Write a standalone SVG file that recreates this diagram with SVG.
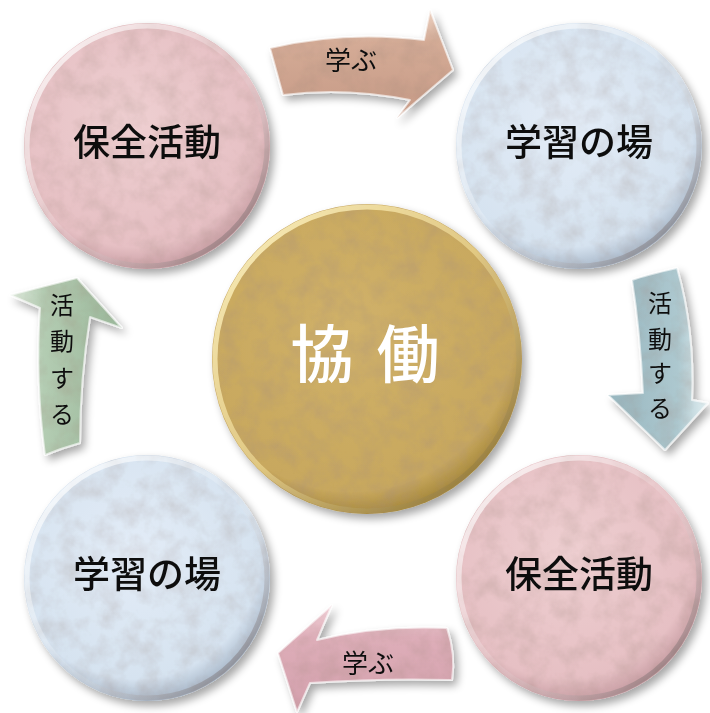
<svg xmlns="http://www.w3.org/2000/svg" width="710" height="713" viewBox="0 0 710 713">
<defs>
  <filter id="shadow" x="-20%" y="-20%" width="150%" height="150%">
    <feGaussianBlur in="SourceAlpha" stdDeviation="4"/>
    <feOffset dx="4" dy="5" result="b"/>
    <feComponentTransfer><feFuncA type="linear" slope="0.35"/></feComponentTransfer>
    <feMerge><feMergeNode/><feMergeNode in="SourceGraphic"/></feMerge>
  </filter>
  <filter id="tex" x="0" y="0" width="100%" height="100%">
    <feTurbulence type="fractalNoise" baseFrequency="0.05" numOctaves="4" seed="3" result="n"/>
    <feColorMatrix in="n" type="matrix" values="0 0 0 0 0.35  0 0 0 0 0.25  0 0 0 0 0.2  0 0 0 0.55 -0.2" result="m"/>
    <feComposite in="m" in2="SourceAlpha" operator="in" result="t"/>
    <feMerge><feMergeNode in="SourceGraphic"/><feMergeNode in="t"/></feMerge>
  </filter>
  <radialGradient id="gPink" cx="45%" cy="40%" r="60%">
    <stop offset="0" stop-color="#eecfd1"/><stop offset="0.85" stop-color="#e6c0c4"/><stop offset="1" stop-color="#c99fa5"/>
  </radialGradient>
  <radialGradient id="gBlue" cx="45%" cy="40%" r="60%">
    <stop offset="0" stop-color="#e3ecf7"/><stop offset="0.85" stop-color="#d6e3f0"/><stop offset="1" stop-color="#aab9ca"/>
  </radialGradient>
  <radialGradient id="gGold" cx="45%" cy="40%" r="60%">
    <stop offset="0" stop-color="#d0b169"/><stop offset="0.88" stop-color="#c8a85e"/><stop offset="1" stop-color="#a88a3e"/>
  </radialGradient>
  <linearGradient id="rim" x1="0" y1="0" x2="1" y2="1">
    <stop offset="0" stop-color="#ffffff" stop-opacity="0.9"/><stop offset="0.5" stop-color="#ffffff" stop-opacity="0.1"/><stop offset="1" stop-color="#3a2a2a" stop-opacity="0.55"/>
  </linearGradient>
  <linearGradient id="rimGold" x1="0" y1="0" x2="1" y2="1">
    <stop offset="0" stop-color="#fff6c8" stop-opacity="0.95"/><stop offset="0.5" stop-color="#f3df9a" stop-opacity="0.6"/><stop offset="1" stop-color="#6b5420" stop-opacity="0.5"/>
  </linearGradient>
  <linearGradient id="aTan" x1="0" y1="0" x2="0" y2="1">
    <stop offset="0" stop-color="#ecd2c2"/><stop offset="0.3" stop-color="#d4ab96"/><stop offset="1" stop-color="#c69a86"/>
  </linearGradient>
  <linearGradient id="aPink" x1="0" y1="0" x2="0" y2="1">
    <stop offset="0" stop-color="#f3d3da"/><stop offset="0.3" stop-color="#deaeb9"/><stop offset="1" stop-color="#d3a0ac"/>
  </linearGradient>
  <linearGradient id="aBlue" x1="0" y1="0" x2="1" y2="0">
    <stop offset="0" stop-color="#97b6bf"/><stop offset="0.7" stop-color="#adc8cf"/><stop offset="1" stop-color="#e3f0f3"/>
  </linearGradient>
  <linearGradient id="aGreen" x1="0" y1="0" x2="1" y2="0">
    <stop offset="0" stop-color="#e2eee1"/><stop offset="0.3" stop-color="#b3ccb2"/><stop offset="1" stop-color="#9ab79a"/>
  </linearGradient>
  <style>
    .lbl{font-family:"Noto Sans CJK JP","Noto Sans CJK SC",sans-serif;fill:#111;text-anchor:middle;font-weight:500}
    .big{font-size:37px}
    .arr{font-size:26px;font-weight:400}
    .vert{font-size:24px;font-weight:400}
    .ctr{font-family:"Noto Sans CJK JP","Noto Sans CJK SC",sans-serif;fill:#fff;font-size:63px;text-anchor:middle;font-weight:500}
    .rim{fill:none;stroke-width:5}
    .edge{stroke:#ffffff;stroke-opacity:0.6;stroke-width:2;stroke-linejoin:round}
  </style>
</defs>
<rect width="710" height="713" fill="#ffffff"/>

<g id="connectors">
  <g id="arrow-top" filter="url(#shadow)">
    <path d="M270,48 Q345,30 424,40 L430,10 L453,70 L397,118 L410,100 Q345,87 283,95 Z" fill="url(#aTan)" filter="url(#tex)"/>
    <path d="M270,48 Q345,30 424,40 L430,10 L453,70 L397,118 L410,100 Q345,87 283,95 Z" fill="none" class="edge"/>
    <text class="lbl arr" x="351" y="70">学ぶ</text>
  </g>
  <g id="arrow-right" filter="url(#shadow)">
    <path d="M632,280 Q646,275 677,268 Q695,330 692,400 L708,403 L665,450 L608,395 L643,393 Q640,330 632,280 Z" fill="url(#aBlue)" filter="url(#tex)"/>
    <path d="M632,280 Q646,275 677,268 Q695,330 692,400 L708,403 L665,450 L608,395 L643,393 Q640,330 632,280 Z" fill="none" class="edge"/>
    <text class="lbl vert" x="660" y="312">活</text>
    <text class="lbl vert" x="660" y="348">動</text>
    <text class="lbl vert" x="660" y="382">す</text>
    <text class="lbl vert" x="660" y="417">る</text>
  </g>
  <g id="arrow-bottom" filter="url(#shadow)">
    <path d="M278,653 L332,605 L317,640 Q380,625 447,628 Q456,655 452,680 Q380,678 310,683 L297,712 Z" fill="url(#aPink)" filter="url(#tex)"/>
    <path d="M278,653 L332,605 L317,640 Q380,625 447,628 Q456,655 452,680 Q380,678 310,683 L297,712 Z" fill="none" class="edge"/>
    <text class="lbl arr" x="368" y="673">学ぶ</text>
  </g>
  <g id="arrow-left" filter="url(#shadow)">
    <path d="M77,278 L122,328 L90,317 Q80,380 80,443 Q62,448 45,455 Q35,380 40,308 L10,295 Z" fill="url(#aGreen)" filter="url(#tex)"/>
    <path d="M77,278 L122,328 L90,317 Q80,380 80,443 Q62,448 45,455 Q35,380 40,308 L10,295 Z" fill="none" class="edge"/>
    <text class="lbl vert" x="62" y="314">活</text>
    <text class="lbl vert" x="62" y="350">動</text>
    <text class="lbl vert" x="62" y="387">す</text>
    <text class="lbl vert" x="62" y="423">る</text>
  </g>
</g>

<g id="node-tl" filter="url(#shadow)">
  <circle cx="147" cy="146" r="123" fill="url(#gPink)" filter="url(#tex)"/>
  <circle cx="147" cy="146" r="120" class="rim" stroke="url(#rim)"/>
  <text class="lbl big" x="147" y="156">保全活動</text>
</g>
<g id="node-tr" filter="url(#shadow)">
  <circle cx="579" cy="146" r="123" fill="url(#gBlue)" filter="url(#tex)"/>
  <circle cx="579" cy="146" r="120" class="rim" stroke="url(#rim)"/>
  <text class="lbl big" x="579" y="156">学習の場</text>
</g>
<g id="node-bl" filter="url(#shadow)">
  <circle cx="147" cy="578" r="123" fill="url(#gBlue)" filter="url(#tex)"/>
  <circle cx="147" cy="578" r="120" class="rim" stroke="url(#rim)"/>
  <text class="lbl big" x="147" y="588">学習の場</text>
</g>
<g id="node-br" filter="url(#shadow)">
  <circle cx="579" cy="578" r="123" fill="url(#gPink)" filter="url(#tex)"/>
  <circle cx="579" cy="578" r="120" class="rim" stroke="url(#rim)"/>
  <text class="lbl big" x="579" y="588">保全活動</text>
</g>
<g id="node-center" filter="url(#shadow)">
  <circle cx="367" cy="359" r="155" fill="url(#gGold)" filter="url(#tex)"/>
  <circle cx="367" cy="359" r="152" class="rim" stroke="url(#rimGold)"/>
  <text class="ctr" x="322" y="377">協</text>
  <text class="ctr" x="408" y="377">働</text>
</g>
</svg>
